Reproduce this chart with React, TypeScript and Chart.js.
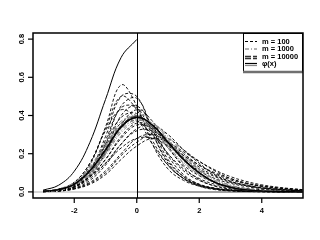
import React, { useEffect, useRef } from "react";
import { Chart, registerables } from "chart.js";

Chart.register(...registerables);

// x grid for all density curves
const X = [-3, -2.5, -2, -1.5, -1, -0.5, 0, 0.5, 1, 1.5, 2, 2.5, 3, 3.5, 4, 4.5, 5, 5.3];
const X_HALF = [-3, -2.5, -2, -1.5, -1, -0.5, 0];

const xTicks = [-2, 0, 2, 4];
const yTicks = [0, 0.2, 0.4, 0.6, 0.8];
const yTickLabels = ["0.0", "0.2", "0.4", "0.6", "0.8"];

// half-normal density (left of 0)
const halfNormal = [0.009, 0.035, 0.108, 0.259, 0.484, 0.704, 0.798];

// limiting density (solid)
const phi = [0.003, 0.012, 0.04, 0.11, 0.22, 0.34, 0.39, 0.35, 0.26, 0.17, 0.1, 0.05, 0.024, 0.01, 0.004, 0.002, 0.001, 0];

// m = 100 (black dashed)
const m100 = [
  [0.002, 0.01, 0.04, 0.14, 0.34, 0.56, 0.45, 0.25, 0.12, 0.06, 0.03, 0.015, 0.008, 0.004, 0.002, 0.001, 0, 0],
  [0.002, 0.008, 0.03, 0.11, 0.29, 0.5, 0.5, 0.31, 0.15, 0.07, 0.03, 0.012, 0.005, 0.002, 0.001, 0, 0, 0],
  [0.001, 0.006, 0.025, 0.09, 0.25, 0.45, 0.49, 0.33, 0.17, 0.08, 0.035, 0.015, 0.006, 0.003, 0.001, 0, 0, 0],
  [0.001, 0.006, 0.025, 0.08, 0.21, 0.4, 0.45, 0.34, 0.19, 0.09, 0.04, 0.018, 0.008, 0.003, 0.001, 0, 0, 0],
  [0.004, 0.015, 0.05, 0.15, 0.32, 0.43, 0.38, 0.25, 0.14, 0.07, 0.035, 0.017, 0.008, 0.004, 0.002, 0.001, 0, 0],
  [0.002, 0.008, 0.025, 0.07, 0.15, 0.25, 0.32, 0.32, 0.26, 0.19, 0.13, 0.085, 0.055, 0.035, 0.022, 0.014, 0.009, 0.007],
  [0.001, 0.005, 0.018, 0.05, 0.11, 0.2, 0.28, 0.3, 0.26, 0.2, 0.14, 0.095, 0.063, 0.042, 0.028, 0.018, 0.012, 0.009],
  [0.002, 0.01, 0.03, 0.08, 0.17, 0.28, 0.35, 0.33, 0.25, 0.17, 0.11, 0.07, 0.045, 0.028, 0.017, 0.011, 0.007, 0.005],
  [0.001, 0.004, 0.015, 0.04, 0.09, 0.17, 0.24, 0.28, 0.26, 0.21, 0.16, 0.115, 0.08, 0.055, 0.037, 0.025, 0.016, 0.012],
  [0.003, 0.012, 0.04, 0.1, 0.21, 0.34, 0.4, 0.34, 0.23, 0.14, 0.085, 0.05, 0.03, 0.018, 0.011, 0.007, 0.004, 0.003],
  [0.003, 0.013, 0.045, 0.12, 0.24, 0.36, 0.37, 0.3, 0.2, 0.12, 0.07, 0.04, 0.025, 0.015, 0.01, 0.006, 0.004, 0.003],
  [0.002, 0.008, 0.03, 0.09, 0.2, 0.35, 0.43, 0.37, 0.24, 0.13, 0.065, 0.03, 0.014, 0.006, 0.003, 0.001, 0, 0],
  [0.002, 0.009, 0.035, 0.11, 0.27, 0.44, 0.44, 0.3, 0.16, 0.08, 0.04, 0.02, 0.01, 0.005, 0.003, 0.002, 0.001, 0.001],
  [0.001, 0.004, 0.016, 0.045, 0.1, 0.19, 0.26, 0.3, 0.28, 0.22, 0.16, 0.11, 0.07, 0.045, 0.03, 0.02, 0.014, 0.011],
  [0.001, 0.006, 0.02, 0.06, 0.14, 0.25, 0.33, 0.35, 0.3, 0.22, 0.15, 0.09, 0.055, 0.034, 0.021, 0.013, 0.008, 0.006],
  [0.003, 0.012, 0.04, 0.12, 0.25, 0.39, 0.41, 0.32, 0.2, 0.11, 0.06, 0.032, 0.018, 0.01, 0.006, 0.004, 0.002, 0.002],
  [0.002, 0.01, 0.03, 0.08, 0.17, 0.29, 0.36, 0.34, 0.26, 0.18, 0.12, 0.08, 0.05, 0.032, 0.02, 0.013, 0.008, 0.006],
  [0.003, 0.012, 0.05, 0.15, 0.33, 0.5, 0.43, 0.27, 0.14, 0.07, 0.035, 0.018, 0.009, 0.005, 0.003, 0.002, 0.001, 0.001],
  [0.003, 0.012, 0.035, 0.08, 0.15, 0.23, 0.28, 0.28, 0.24, 0.19, 0.14, 0.1, 0.07, 0.047, 0.032, 0.022, 0.015, 0.012],
];

// m = 1000 (gray dot-dash)
const m1000 = [
  [0.003, 0.014, 0.045, 0.12, 0.24, 0.36, 0.4, 0.34, 0.24, 0.155, 0.09, 0.048, 0.024, 0.011, 0.005, 0.002, 0.001, 0],
  [0.002, 0.01, 0.035, 0.1, 0.2, 0.32, 0.38, 0.36, 0.28, 0.18, 0.11, 0.06, 0.03, 0.014, 0.006, 0.003, 0.001, 0.001],
  [0.004, 0.015, 0.048, 0.125, 0.245, 0.35, 0.385, 0.33, 0.25, 0.165, 0.1, 0.055, 0.028, 0.013, 0.006, 0.003, 0.001, 0],
  [0.002, 0.009, 0.033, 0.095, 0.2, 0.33, 0.41, 0.37, 0.27, 0.17, 0.095, 0.048, 0.022, 0.01, 0.004, 0.002, 0.001, 0],
  [0.003, 0.012, 0.04, 0.105, 0.21, 0.33, 0.375, 0.345, 0.27, 0.185, 0.115, 0.065, 0.034, 0.016, 0.007, 0.003, 0.001, 0.001],
  [0.003, 0.013, 0.042, 0.115, 0.23, 0.35, 0.395, 0.35, 0.255, 0.165, 0.095, 0.05, 0.025, 0.011, 0.005, 0.002, 0.001, 0],
  [0.004, 0.016, 0.05, 0.13, 0.26, 0.37, 0.39, 0.32, 0.23, 0.15, 0.09, 0.05, 0.026, 0.013, 0.006, 0.003, 0.001, 0.001],
  [0.002, 0.009, 0.032, 0.09, 0.19, 0.31, 0.37, 0.36, 0.29, 0.2, 0.12, 0.068, 0.036, 0.018, 0.008, 0.004, 0.002, 0.001],
];

// m = 10000 (dark gray long dash)
const m10000 = [
  [0.003, 0.012, 0.041, 0.112, 0.223, 0.343, 0.393, 0.348, 0.257, 0.168, 0.099, 0.05, 0.024, 0.01, 0.004, 0.002, 0.001, 0],
  [0.003, 0.011, 0.039, 0.108, 0.217, 0.337, 0.388, 0.352, 0.262, 0.172, 0.101, 0.051, 0.025, 0.011, 0.004, 0.002, 0.001, 0],
  [0.003, 0.013, 0.042, 0.114, 0.226, 0.346, 0.395, 0.347, 0.255, 0.166, 0.098, 0.049, 0.023, 0.01, 0.004, 0.002, 0.001, 0],
  [0.003, 0.012, 0.04, 0.109, 0.219, 0.339, 0.391, 0.351, 0.26, 0.171, 0.1, 0.05, 0.024, 0.01, 0.004, 0.002, 0.001, 0],
];

const legendLabels = ["m = 100", "m = 1000", "m = 10000", "\u03c6(x)"];

const FONT = "bold 7.5px 'Liberation Sans', Arial, sans-serif";

const pts = (xs: number[], ys: number[]) => ys.map((y, i) => ({ x: xs[i], y }));

const framePlugin = {
  id: "frame",
  beforeDatasetsDraw(chart: any) {
    const { ctx, chartArea: a, scales } = chart;
    const x0 = scales.x.getPixelForValue(0);
    const y0 = scales.y.getPixelForValue(0);
    ctx.save();
    ctx.lineWidth = 1.5;
    ctx.strokeStyle = "#c8c8c8";
    ctx.beginPath();
    ctx.moveTo(a.left, y0);
    ctx.lineTo(x0, y0);
    ctx.stroke();
    ctx.strokeStyle = "#808080";
    ctx.beginPath();
    ctx.moveTo(x0, y0);
    ctx.lineTo(a.right, y0);
    ctx.stroke();
    ctx.restore();
  },
  afterDraw(chart: any) {
    const { ctx, chartArea: a, scales } = chart;
    ctx.save();
    // vertical reference line at 0
    const x0 = scales.x.getPixelForValue(0);
    ctx.strokeStyle = "#000";
    ctx.lineWidth = 1;
    ctx.beginPath();
    ctx.moveTo(Math.round(x0) + 0.5, a.top);
    ctx.lineTo(Math.round(x0) + 0.5, a.bottom);
    ctx.stroke();

    // legend box
    const lx = 243, ly = a.top, lw = a.right - 243, lh = 39;
    ctx.fillStyle = "#fff";
    ctx.fillRect(lx, ly, lw, lh);
    ctx.strokeStyle = "#000";
    ctx.lineWidth = 1;
    ctx.strokeRect(lx + 0.5, ly + 0.5, lw - 1, lh - 1);
    ctx.strokeStyle = "#707070";
    ctx.lineWidth = 2.5;
    ctx.beginPath();
    ctx.moveTo(lx, ly + lh);
    ctx.lineTo(lx + lw, ly + lh);
    ctx.stroke();
    const styles = [
      { c: "#000", d: [3, 2], w: 1 },
      { c: "#666", d: [4, 2, 1, 2], w: 1 },
      { c: "#333", d: [6, 2], w: 1.5 },
    ];
    ctx.font = FONT;
    ctx.textBaseline = "middle";
    ctx.textAlign = "left";
    for (let i = 0; i < 4; i++) {
      const yy = ly + 8.5 + i * 7.5;
      if (i < 3) {
        ctx.strokeStyle = styles[i].c;
        ctx.setLineDash(styles[i].d);
        ctx.lineWidth = styles[i].w;
        ctx.beginPath();
        ctx.moveTo(245, yy);
        ctx.lineTo(257, yy);
        ctx.stroke();
        if (i === 2) {
          ctx.beginPath();
          ctx.moveTo(245, yy + 2);
          ctx.lineTo(257, yy + 2);
          ctx.stroke();
        }
      } else {
        ctx.setLineDash([]);
        ctx.lineWidth = 1.2;
        ctx.strokeStyle = "#000";
        ctx.beginPath();
        ctx.moveTo(245, yy - 0.5);
        ctx.lineTo(257, yy - 0.5);
        ctx.stroke();
        ctx.strokeStyle = "#888";
        ctx.beginPath();
        ctx.moveTo(245, yy + 1.5);
        ctx.lineTo(257, yy + 1.5);
        ctx.stroke();
      }
      ctx.setLineDash([]);
      ctx.fillStyle = "#000";
      ctx.fillText(legendLabels[i], 262, yy);
    }

    // frame
    ctx.strokeStyle = "#000";
    ctx.lineWidth = 1.5;
    ctx.strokeRect(a.left, a.top, a.right - a.left, a.bottom - a.top);

    // ticks and labels
    ctx.lineWidth = 1.2;
    ctx.font = FONT;
    ctx.fillStyle = "#000";
    ctx.textAlign = "center";
    ctx.textBaseline = "middle";
    xTicks.forEach((v) => {
      const px = scales.x.getPixelForValue(v);
      ctx.beginPath();
      ctx.moveTo(px, a.bottom);
      ctx.lineTo(px, a.bottom + 5);
      ctx.stroke();
      ctx.fillText(String(v), px, a.bottom + 13);
    });
    yTicks.forEach((v, i) => {
      const py = scales.y.getPixelForValue(v);
      ctx.beginPath();
      ctx.moveTo(a.left, py);
      ctx.lineTo(a.left - 5, py);
      ctx.stroke();
      ctx.save();
      ctx.translate(a.left - 11, py);
      ctx.rotate(-Math.PI / 2);
      ctx.fillText(yTickLabels[i], 0, 0);
      ctx.restore();
    });
    ctx.restore();
  },
};

export default function App() {
  const ref = useRef<HTMLCanvasElement>(null);
  useEffect(() => {
    if (!ref.current) return;
    const datasets: any[] = [];
    datasets.push({ data: pts(X, phi), borderColor: "#000", borderWidth: 1.3, borderDash: [] });
    datasets.push({ data: pts(X_HALF, halfNormal), borderColor: "#000", borderWidth: 1, borderDash: [] });
    m10000.forEach((s) => datasets.push({ data: pts(X, s), borderColor: "#333", borderWidth: 1, borderDash: [6, 2] }));
    m1000.forEach((s) => datasets.push({ data: pts(X, s), borderColor: "#888", borderWidth: 1, borderDash: [4, 2, 1, 2] }));
    m100.forEach((s) => datasets.push({ data: pts(X, s), borderColor: "#000", borderWidth: 0.9, borderDash: [3, 2] }));
    datasets.forEach((d) => {
      d.pointRadius = 0;
      d.fill = false;
      d.tension = 0.4;
    });
    const chart = new Chart(ref.current, {
      type: "line",
      data: { datasets },
      options: {
        animation: false,
        responsive: false,
        parsing: false as any,
        layout: { padding: { left: 33, top: 33, right: 17, bottom: 42 } },
        plugins: { legend: { display: false }, tooltip: { enabled: false } },
        scales: {
          x: { type: "linear", min: -3.32, max: 5.32, display: false },
          y: { type: "linear", min: -0.032, max: 0.832, display: false },
        },
      },
      plugins: [framePlugin],
    });
    return () => chart.destroy();
  }, []);
  return (
    <div style={{ position: "fixed", left: 0, top: 0, width: 320, height: 240, background: "#fff" }}>
      <canvas ref={ref} width={320} height={240} />
    </div>
  );
}
